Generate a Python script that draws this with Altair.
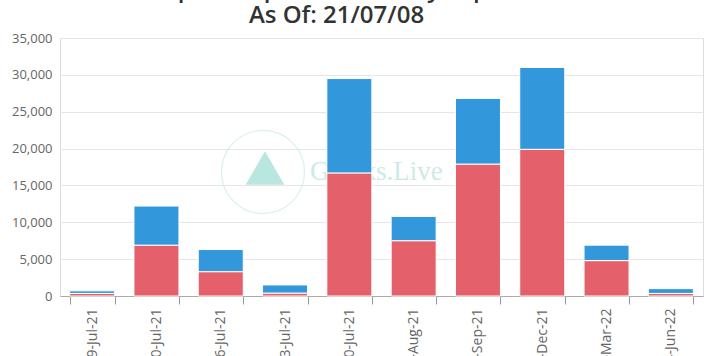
import altair as alt
import pandas as pd

expiries = ["9-Jul-21", "10-Jul-21", "16-Jul-21", "23-Jul-21", "30-Jul-21",
            "27-Aug-21", "24-Sep-21", "31-Dec-21", "25-Mar-22", "24-Jun-22"]
calls = [350, 6900, 3300, 400, 16700, 7500, 17900, 19900, 4800, 350]
puts = [350, 5300, 3000, 1100, 12800, 3300, 8900, 11100, 2100, 650]
series_names = ["Calls", "Puts"]
series_colors = ["#e4606a", "#3397db"]

rows = []
for e, c, p in zip(expiries, calls, puts):
    rows.append({"expiry": e, "series": "Calls", "oi": c, "ord": 0})
    rows.append({"expiry": e, "series": "Puts", "oi": p, "ord": 1})
df = pd.DataFrame(rows)

FONT = "Open Sans"

bars = alt.Chart(df).mark_bar(stroke="white", strokeWidth=1).encode(
    x=alt.X("expiry:N", sort=expiries, title=None,
            scale=alt.Scale(paddingInner=0.3, paddingOuter=0.15),
            axis=alt.Axis(labelAngle=-90, labelFontSize=14, labelColor="#666666",
                          labelFont=FONT, tickBand="extent", tickSize=8,
                          tickColor="#999999", domainColor="#aaaaaa",
                          labelPadding=4, grid=False)),
    y=alt.Y("oi:Q", stack="zero", title=None,
            scale=alt.Scale(domain=[0, 35000]),
            axis=alt.Axis(values=[0, 5000, 10000, 15000, 20000, 25000, 30000, 35000],
                          format=",d", labelFontSize=13, labelColor="#666666",
                          labelFont=FONT, domain=False, ticks=False,
                          gridColor="#e6e6e6", labelPadding=8)),
    color=alt.Color("series:N", scale=alt.Scale(domain=series_names, range=series_colors),
                    legend=None),
    order=alt.Order("ord:Q", sort="ascending"),
)

ring = alt.Chart(pd.DataFrame({"a": [0]})).mark_point(
    shape="circle", size=6900, filled=False, stroke="#c9ebe6", strokeWidth=1.2
).encode(x=alt.value(203), y=alt.value(134))

tri = alt.Chart(pd.DataFrame({"a": [0]})).mark_point(
    shape="triangle-up", size=1500, filled=True, fill="#a9e0d8", opacity=0.8
).encode(x=alt.value(205), y=alt.value(130))

wm = alt.Chart(pd.DataFrame({"t": ["Greeks.Live"]})).mark_text(
    font="Liberation Serif", fontSize=27, color="#cdeae6", align="left", baseline="middle"
).encode(text="t:N", x=alt.value(250), y=alt.value(134))

chart = alt.layer(ring, tri, wm, bars).properties(
    width=643, height=258,
    title=alt.TitleParams(
        text=["BTC Option Open Interest By Expiration", "As Of: 21/07/08"],
        fontSize=24, font=FONT, fontWeight=600, color="#333333",
        anchor="middle", offset=4, dx=-45, lineHeight=26,
    ),
    autosize=alt.AutoSizeParams(type="none"),
    padding={"left": 60, "top": 38, "right": 6, "bottom": 60},
).configure_view(stroke=None).configure(background="white")

chart.save("out.html", embed_options={"renderer": "svg", "actions": False})
